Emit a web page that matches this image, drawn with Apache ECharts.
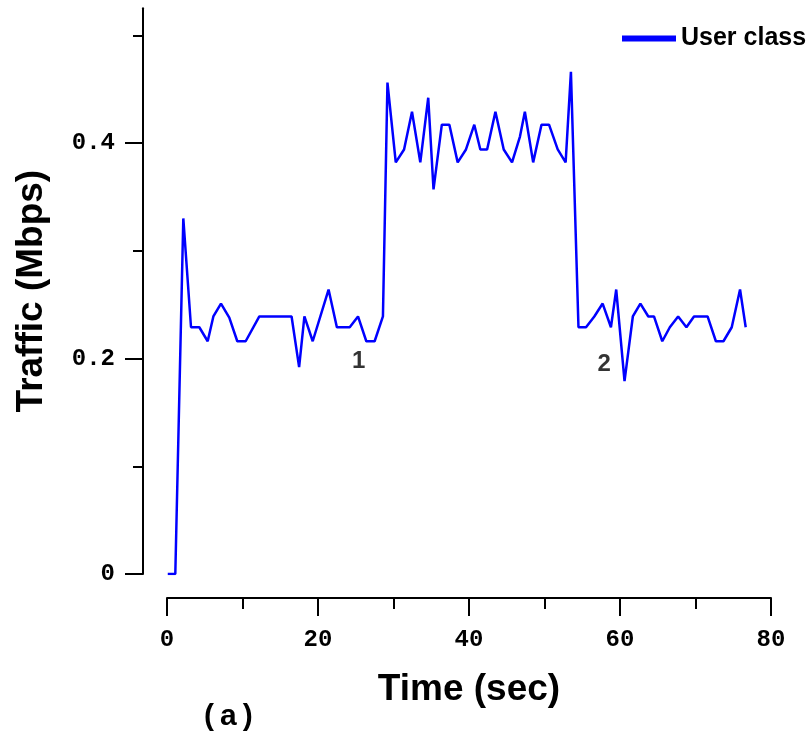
<!DOCTYPE html>
<html>
<head>
<meta charset="utf-8">
<script src="https://cdn.jsdelivr.net/npm/echarts@6/dist/echarts.min.js"></script>
<style>html,body{margin:0;padding:0;background:#fff;}#chart{width:811px;height:739px;}</style>
</head>
<body>
<div id="chart"></div>
<script>
// Time (sec) of each vertex of the trace
const timeSec = [0.1, 1.1, 2.16, 3.18, 4.28, 5.39, 6.14, 7.15, 8.25, 9.31, 10.42, 12.23, 16.5, 17.5, 18.2, 19.3, 21.4, 22.5, 24.2, 25.3, 26.4, 27.5, 28.6,
  29.2, 30.3, 31.4, 32.45, 33.55, 34.6, 35.3, 36.4, 37.4, 38.5, 39.6, 40.7, 41.5, 42.4, 43.5, 44.6, 45.7, 46.75, 47.4, 48.5, 49.6, 50.6, 51.75, 52.8, 53.5,
  54.5, 55.5, 56.6, 57.7, 58.8, 59.5, 60.6, 61.7, 62.7, 63.75, 64.5, 65.6, 66.6, 67.7, 68.8, 69.8, 71.6, 72.7, 73.7, 74.8, 75.9, 76.65];
// Traffic (Mbps) of the user class
const userTraffic = [0, 0, 0.330, 0.229, 0.229, 0.216, 0.239, 0.251, 0.238, 0.216, 0.216, 0.239, 0.239, 0.192, 0.239, 0.216, 0.264, 0.229, 0.229, 0.239, 0.216, 0.216, 0.239,
  0.456, 0.382, 0.394, 0.429, 0.382, 0.442, 0.357, 0.417, 0.417, 0.382, 0.394, 0.417, 0.394, 0.394, 0.429, 0.394, 0.382, 0.406, 0.429, 0.382, 0.417, 0.417, 0.394, 0.382, 0.466,
  0.229, 0.229, 0.239, 0.251, 0.229, 0.264, 0.179, 0.239, 0.251, 0.239, 0.239, 0.216, 0.229, 0.239, 0.229, 0.239, 0.239, 0.216, 0.216, 0.229, 0.264, 0.229];
const seriesName = 'User class';
const xTicks = [0, 20, 40, 60, 80];
const yTicks = [0, 0.2, 0.4];
const annotationText = ['1', '2'];
const annotationX = [25.4, 57.9];
const annotationY = [0.197, 0.195];

const tickFont = {fontFamily: 'Liberation Mono', fontWeight: 'bold', fontSize: 24, color: '#000'};
const sans = 'Liberation Sans';
const black = {color: '#000', width: 2};

const chart = echarts.init(document.getElementById('chart'), null, {renderer: 'canvas'});
chart.setOption({
  backgroundColor: '#fff',
  animation: false,
  textStyle: {fontFamily: sans},
  legend: {
    left: 622, top: 26, padding: 0, itemWidth: 54, itemHeight: 6, icon: 'rect', itemGap: 0,
    textStyle: {fontFamily: sans, fontWeight: 'bold', fontSize: 25, color: '#000'},
    data: [seriesName]
  },
  grid: [
    {left: 167, right: 40, top: 8.3, bottom: 165, outerBoundsMode: 'none', containLabel: false},
    {left: 167, right: 40, top: -72.5, bottom: 165, outerBoundsMode: 'none', containLabel: false}
  ],
  xAxis: [
    {
      gridIndex: 0, type: 'value', min: xTicks[0], max: xTicks[xTicks.length - 1], interval: 20, offset: 24,
      axisLine: {show: true, onZero: false, lineStyle: black},
      axisTick: {show: true, length: 18, lineStyle: black},
      minorTick: {show: true, splitNumber: 2, length: 11, lineStyle: black},
      splitLine: {show: false}, minorSplitLine: {show: false},
      axisLabel: Object.assign({margin: 30}, tickFont),
      name: 'Time (sec)', nameLocation: 'middle', nameGap: 73,
      nameTextStyle: {fontFamily: sans, fontWeight: 'bold', fontSize: 37, color: '#000'}
    },
    {gridIndex: 1, type: 'value', min: 0, max: 80, show: false, axisLine: {onZero: false}}
  ],
  yAxis: [
    {
      gridIndex: 0, type: 'value', min: 0, max: 0.525, offset: 24,
      axisLine: {show: true, onZero: false, lineStyle: black},
      axisTick: {show: false}, axisLabel: {show: false}, splitLine: {show: false},
      name: 'Traffic (Mbps)', nameLocation: 'middle', nameGap: 93,
      nameTextStyle: {fontFamily: sans, fontWeight: 'bold', fontSize: 37, color: '#000'}
    },
    {
      gridIndex: 1, type: 'value', min: 0, max: 0.6, interval: 0.2, offset: 24,
      axisLine: {show: false, onZero: false},
      axisTick: {show: true, length: 18, lineStyle: black},
      minorTick: {show: true, splitNumber: 2, length: 10, lineStyle: black},
      splitLine: {show: false}, minorSplitLine: {show: false},
      axisLabel: Object.assign({margin: 28, formatter: v => (yTicks.some(t => Math.abs(t - v) < 1e-9) ? String(v) : '')}, tickFont)
    }
  ],
  title: {
    text: '(\u2009a\u2009)', left: 204, top: 702, padding: 0,
    textStyle: {fontFamily: sans, fontWeight: 'bold', fontSize: 30, color: '#000'}
  },
  series: [
    {
      name: seriesName, type: 'line', xAxisIndex: 0, yAxisIndex: 0,
      data: timeSec.map((t, i) => [t, userTraffic[i]]),
      symbol: 'none', lineStyle: {color: '#0000ff', width: 2.5}, itemStyle: {color: '#0000ff'}
    },
    {
      name: 'annotations', type: 'scatter', xAxisIndex: 0, yAxisIndex: 0,
      symbolSize: 0, silent: true,
      data: annotationText.map((s, i) => ({name: s, value: [annotationX[i], annotationY[i]]})),
      label: {
        show: true, position: 'inside', formatter: p => '{n|' + p.name + '}',
        rich: {n: {fontFamily: sans, fontWeight: 'bold', fontSize: 24, color: '#000'}}
      }
    }
  ]
});
</script>
</body>
</html>
